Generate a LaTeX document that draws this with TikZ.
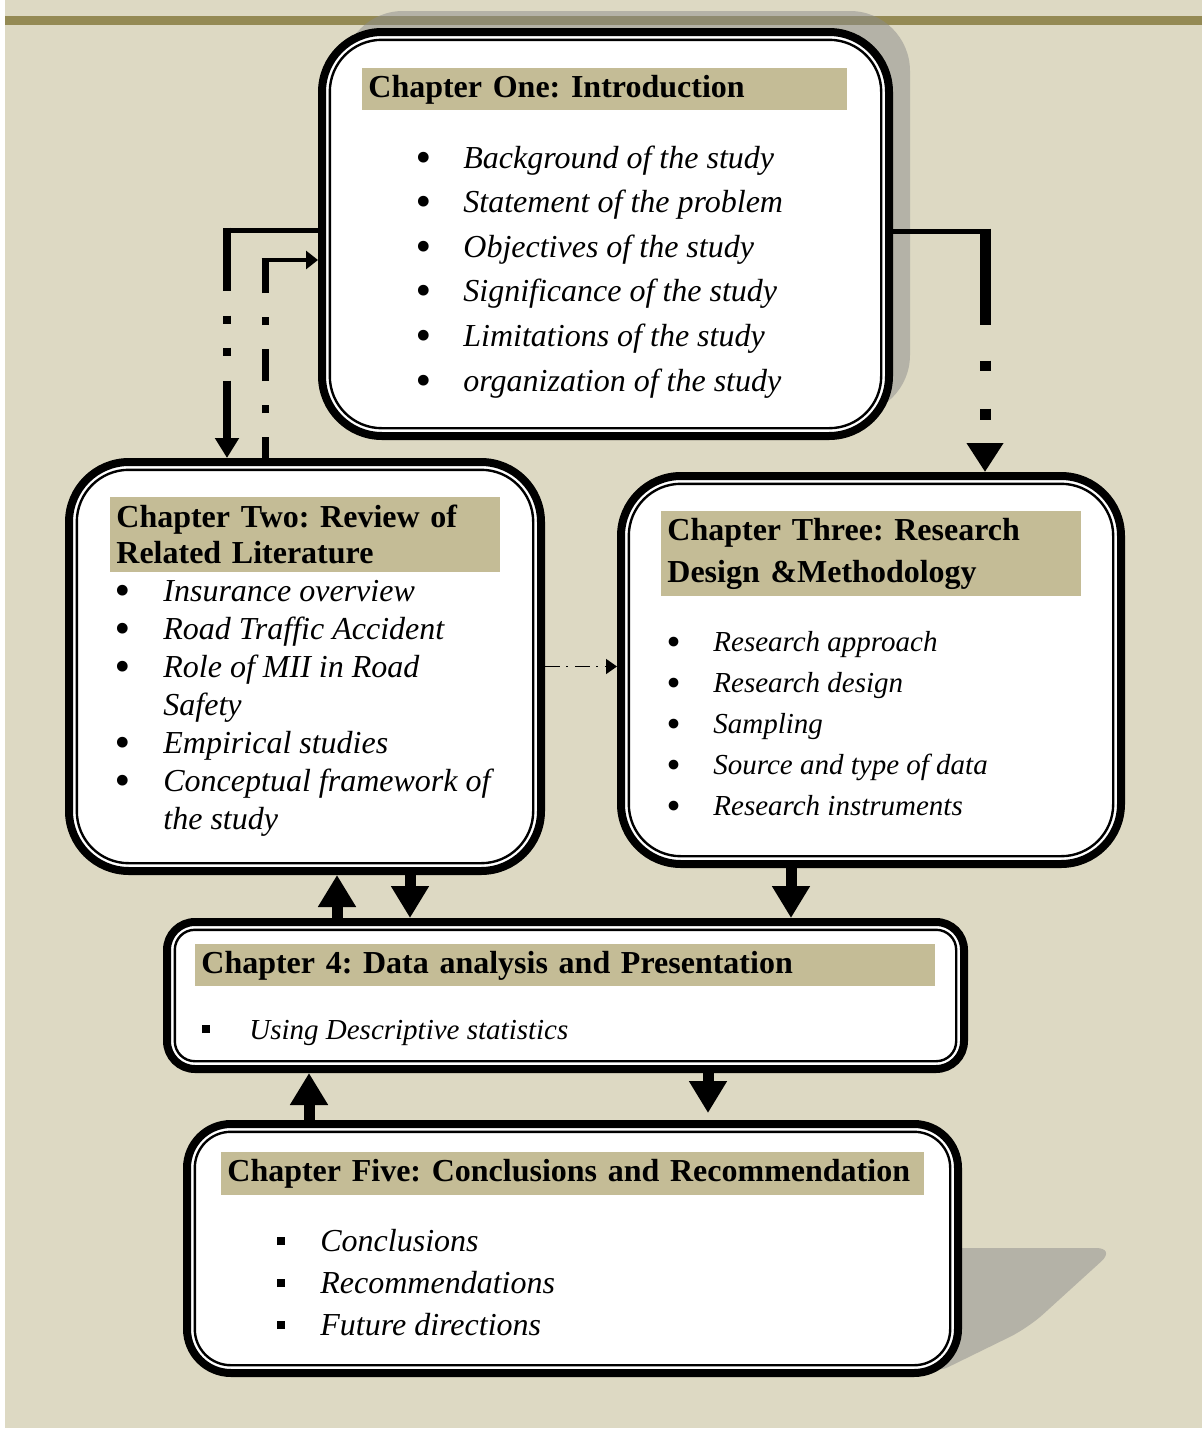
\documentclass[tikz,border=0pt]{standalone}
\usepackage{fontspec}
\setmainfont{Liberation Serif}
\usetikzlibrary{arrows.meta,shadows}
\definecolor{pagebg}{HTML}{DDD9C3}
\definecolor{bandtan}{HTML}{C4BC96}
\definecolor{topbar}{HTML}{948A54}
\definecolor{shadegray}{HTML}{8C8C8C}
\newcommand{\bigdot}{\raisebox{-2pt}{\scalebox{1.4}{\textbullet}}}
\frenchspacing

\begin{document}
\begin{tikzpicture}[x=0.5pt, y=-0.5pt,
    chapter/.style={rectangle, draw=black, line width=4pt, fill=white, inner sep=0pt},
    rim/.style={draw=black, line width=1.2pt},
    band/.style={anchor=north west, fill=bandtan, align=left, inner xsep=3pt, inner ysep=0pt, font=\bfseries\fontsize{16}{18}\selectfont},
    items/.style={anchor=base west, inner sep=0pt, font=\itshape\fontsize{16}{22.3}\selectfont},
    blockarrow/.style={line width=5.5pt, -{Triangle[width=18pt,length=16pt]}}
]
\useasboundingbox (0,0) rectangle (1202,1430);
\fill[white] (0,0) rectangle (1202,1430);
\fill[pagebg] (5,0) rectangle (1202,1428);
\fill[topbar] (5,16) rectangle (1202,25);

% the boxes
\node[chapter, rounded corners=30pt, minimum width=283.5pt, minimum height=202pt,
      drop shadow={shadow xshift=10.5pt, shadow yshift=10.5pt, fill=shadegray, opacity=.5}] (ch1) at (605.5,234) {};
\node[chapter, rounded corners=30pt, minimum width=236pt, minimum height=204.5pt] (ch2) at (305,666.5) {};
\node[chapter, rounded corners=30pt, minimum width=250pt, minimum height=194pt] (ch3) at (871,670) {};
\node[chapter, rounded corners=14pt, minimum width=398.5pt, minimum height=73.5pt] (ch4) at (565.5,995.5) {};
\fill[shadegray, opacity=.5, rounded corners=10pt] (940,1248) -- (1116,1248) -- (1028,1328) -- (930,1376) -- cycle;
\node[chapter, rounded corners=22pt, minimum width=385.5pt, minimum height=124.5pt] (ch5) at (572.5,1248.5) {};
\foreach \n/\r in {ch1/26pt, ch2/26pt, ch3/26pt, ch4/10pt, ch5/18pt}
  \draw[rim, rounded corners=\r] ([shift={(5.9pt,-5.9pt)}]\n.north west) rectangle ([shift={(-5.9pt,5.9pt)}]\n.south east);

% titles
\node[band, text width=236.5pt, minimum height=21pt] (ch1band) at (362,68) {Chapter One: Introduction};
\node[band, text width=189pt, minimum height=37.5pt] (ch2band) at (110,497) {Chapter Two: Review of\\Related Literature};
\node[band, text width=204pt, minimum height=42.5pt, font=\bfseries\fontsize{16}{21}\selectfont] (ch3band) at (661,511) {Chapter Three: Research\\Design \&Methodology};
\node[band, text width=364pt, minimum height=21pt] (ch4band) at (195,944) {Chapter 4: Data analysis and Presentation};
\node[band, text width=345.5pt, minimum height=21.5pt] (ch5band) at (221,1152) {Chapter Five: Conclusions and Recommendation};

% contents
\node[items] (ch1list) at (415,168) {\begin{tabular}[t]{@{}p{24pt}@{}l@{}}
\bigdot & Background of the study\\
\bigdot & Statement of the problem\\
\bigdot & Objectives of the study\\
\bigdot & Significance of the study\\
\bigdot & Limitations of the study\\
\bigdot & organization of the study
\end{tabular}};
\node[items, font=\itshape\fontsize{16}{19}\selectfont] (ch2list) at (114.5,601) {\begin{tabular}[t]{@{}p{24.25pt}@{}l@{}}
\bigdot & Insurance overview\\
\bigdot & Road Traffic Accident\\
\bigdot & Role of MII in Road\\
 & Safety\\
\bigdot & Empirical studies\\
\bigdot & Conceptual framework of\\
 & the study
\end{tabular}};
\node[items, font=\itshape\fontsize{14.5}{20.5}\selectfont] (ch3list) at (666,651.5) {\begin{tabular}[t]{@{}p{23.5pt}@{}l@{}}
\bigdot & Research approach\\
\bigdot & Research design\\
\bigdot & Sampling\\
\bigdot & Source and type of data\\
\bigdot & Research instruments
\end{tabular}};
\node[items, font=\itshape\fontsize{14.5}{20}\selectfont] (ch4list) at (202,1039) {\begin{tabular}[t]{@{}p{23.5pt}@{}l@{}}
\rule[3pt]{4pt}{4pt} & Using Descriptive statistics
\end{tabular}};
\node[items, font=\itshape\fontsize{16}{21}\selectfont] (ch5list) at (277,1251) {\begin{tabular}[t]{@{}p{21.5pt}@{}l@{}}
\rule[3pt]{3.8pt}{3.8pt} & Conclusions\\
\rule[3pt]{3.8pt}{3.8pt} & Recommendations\\
\rule[3pt]{3.8pt}{3.8pt} & Future directions
\end{tabular}};

% links
\coordinate (bendA) at (227,230);
\coordinate (bendB) at (265,260);
\coordinate (bendC) at (985,231);
\draw[line width=2.5pt] (ch1.west |- bendA) -- ([xshift=-2pt]bendA);
\draw[line width=4pt, dash pattern=on 31.5pt off 12.5pt on 4pt off 12pt on 4pt off 12.5pt,
      -{Triangle[width=11.5pt,length=10pt]}] ([yshift=1.25pt]bendA) -- (bendA |- ch2.north);
\draw[line width=3.5pt, dash pattern=on 16pt off 12pt on 4pt off 12pt, dash phase=5.5pt] (bendB |- ch2.north) -- (bendB);
\draw[line width=2pt, -{Triangle[width=9pt,length=6pt]}] ([xshift=-1.75pt]bendB) -- (ch1.west |- bendB);
\draw[line width=2.5pt] (ch1.east |- bendC) -- ([xshift=2.75pt]bendC);
\draw[line width=5.5pt, dash pattern=on 48pt off 18pt on 5pt off 19pt on 5.5pt off 60pt,
      -{Triangle[width=17.5pt,length=14.5pt]}] ([yshift=1.25pt]bendC) -- (bendC |- ch3.north);
\draw[line width=0.75pt, dash pattern=on 7.5pt off 3pt on 1pt off 3.5pt,
      -{Triangle[width=7.5pt,length=5.5pt]}] (ch2.east) -- (ch2.east -| ch3.west);

\coordinate (up24) at (337,0);
\coordinate (dn24) at (410,0);
\coordinate (dn34) at (791,0);
\coordinate (up54) at (309,0);
\coordinate (dn45) at (708,1113);
\draw[blockarrow] (up24 |- ch4.north) -- (up24 |- ch2.south);
\draw[blockarrow] (dn24 |- ch2.south) -- (dn24 |- ch4.north);
\draw[blockarrow] (dn34 |- ch3.south) -- (dn34 |- ch4.north);
\draw[blockarrow] (up54 |- ch5.north) -- (up54 |- ch4.south);
\draw[blockarrow] (dn45 |- ch4.south) -- (dn45);
\end{tikzpicture}
\end{document}
